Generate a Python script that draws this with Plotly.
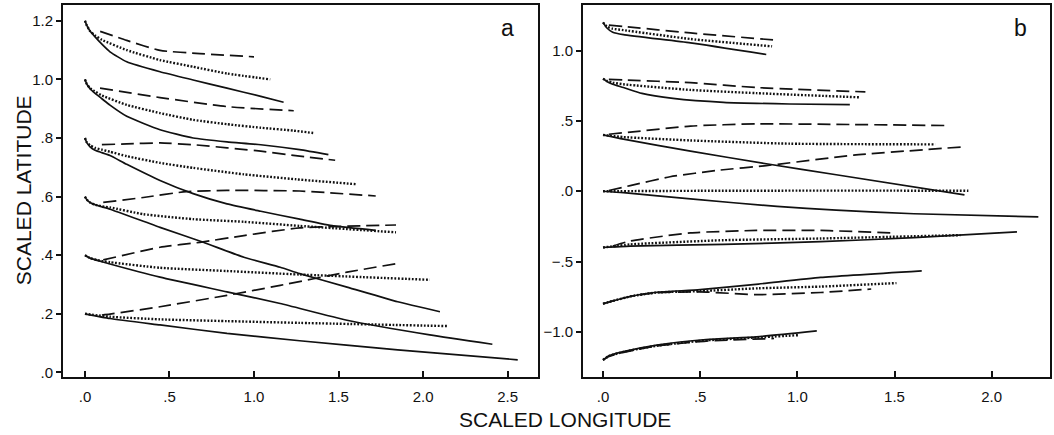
import plotly.graph_objects as go
from plotly.subplots import make_subplots

# ---- panel a (start latitudes 1.2 ... 0.2) ----
A12_SOLID_X = [0, 0.01, 0.03, 0.06, 0.10, 0.148, 0.247, 0.444, 0.64, 0.84, 1.04, 1.175]
A12_SOLID_Y = [1.20, 1.185, 1.165, 1.145, 1.12, 1.094, 1.06, 1.026, 0.998, 0.97, 0.942, 0.922]
A12_DOT_X = [0, 0.01, 0.03, 0.06, 0.10, 0.247, 0.444, 0.64, 0.84, 1.096]
A12_DOT_Y = [1.20, 1.185, 1.165, 1.15, 1.135, 1.10, 1.066, 1.043, 1.02, 1.0]
A12_DASH_X = [0.09, 0.247, 0.444, 0.68, 1.0]
A12_DASH_Y = [1.164, 1.133, 1.099, 1.088, 1.077]

A10_SOLID_X = [0, 0.01, 0.03, 0.06, 0.10, 0.148, 0.247, 0.444, 0.64, 0.84, 1.04, 1.27, 1.44]
A10_SOLID_Y = [1.0, 0.985, 0.968, 0.952, 0.934, 0.912, 0.874, 0.828, 0.80, 0.787, 0.777, 0.76, 0.743]
A10_DOT_X = [0, 0.01, 0.03, 0.05, 0.10, 0.247, 0.444, 0.64, 0.84, 1.04, 1.235, 1.35]
A10_DOT_Y = [1.0, 0.985, 0.97, 0.962, 0.945, 0.913, 0.885, 0.862, 0.847, 0.835, 0.825, 0.817]
A10_DASH_X = [0.089, 0.444, 0.84, 1.235]
A10_DASH_Y = [0.97, 0.938, 0.907, 0.893]

A08_SOLID_X = [0, 0.01, 0.03, 0.06, 0.10, 0.148, 0.247, 0.444, 0.64, 0.84, 1.04, 1.27, 1.47, 1.72]
A08_SOLID_Y = [0.8, 0.785, 0.77, 0.758, 0.75, 0.74, 0.71, 0.655, 0.61, 0.575, 0.55, 0.523, 0.50, 0.485]
A08_DOT_X = [0, 0.01, 0.03, 0.06, 0.10, 0.148, 0.247, 0.444, 0.64, 0.94, 1.25, 1.61]
A08_DOT_Y = [0.8, 0.786, 0.775, 0.766, 0.76, 0.753, 0.738, 0.715, 0.698, 0.676, 0.659, 0.642]
A08_DASH_X = [0.10, 0.247, 0.444, 0.64, 1.04, 1.27, 1.48]
A08_DASH_Y = [0.777, 0.78, 0.783, 0.777, 0.755, 0.738, 0.724]

A06_SOLID_X = [0, 0.01, 0.03, 0.06, 0.10, 0.148, 0.444, 0.70, 0.94, 1.155, 1.27, 1.55, 1.85, 2.10]
A06_SOLID_Y = [0.6, 0.59, 0.58, 0.572, 0.565, 0.557, 0.495, 0.444, 0.393, 0.359, 0.337, 0.291, 0.241, 0.207]
A06_DOT_X = [0, 0.01, 0.03, 0.06, 0.10, 0.148, 0.345, 0.64, 0.94, 1.27, 1.84]
A06_DOT_Y = [0.6, 0.59, 0.58, 0.572, 0.567, 0.563, 0.54, 0.523, 0.514, 0.50, 0.478]
A06_DASH_X = [0.108, 0.345, 0.60, 0.84, 1.27, 1.72]
A06_DASH_Y = [0.58, 0.597, 0.617, 0.621, 0.619, 0.602]

A04_SOLID_X = [0, 0.03, 0.10, 0.148, 0.444, 0.84, 1.155, 1.55, 2.04, 2.41]
A04_SOLID_Y = [0.4, 0.39, 0.378, 0.37, 0.325, 0.275, 0.235, 0.178, 0.128, 0.096]
A04_DOT_X = [0, 0.03, 0.10, 0.148, 0.444, 0.84, 1.27, 2.04]
A04_DOT_Y = [0.4, 0.39, 0.38, 0.376, 0.357, 0.346, 0.334, 0.316]
A04_DASH_X = [0.108, 0.444, 0.68, 0.94, 1.27, 1.84]
A04_DASH_Y = [0.384, 0.427, 0.444, 0.467, 0.493, 0.503]

A02_SOLID_X = [0, 0.148, 0.444, 0.84, 1.27, 1.85, 2.56]
A02_SOLID_Y = [0.2, 0.184, 0.162, 0.133, 0.108, 0.077, 0.043]
A02_DOT_X = [0, 0.148, 0.444, 0.84, 1.27, 2.15]
A02_DOT_Y = [0.2, 0.19, 0.181, 0.175, 0.169, 0.158]
A02_DASH_X = [0.10, 0.148, 0.444, 0.84, 1.155, 1.55, 1.87]
A02_DASH_Y = [0.196, 0.199, 0.224, 0.263, 0.297, 0.342, 0.374]

# ---- panel b (start latitudes 1.2 ... -1.2) ----
B12_SOLID_X = [0, 0.02, 0.05, 0.105, 0.45, 0.84]
B12_SOLID_Y = [1.2, 1.16, 1.13, 1.113, 1.054, 0.972]
B12_DOT_X = [0, 0.02, 0.05, 0.105, 0.45, 0.87]
B12_DOT_Y = [1.2, 1.17, 1.155, 1.145, 1.082, 1.03]
B12_DASH_X = [0.03, 0.105, 0.45, 0.895]
B12_DASH_Y = [1.18, 1.171, 1.125, 1.073]

B08_SOLID_X = [0, 0.02, 0.05, 0.105, 0.2, 0.36, 0.62, 0.96, 1.27]
B08_SOLID_Y = [0.8, 0.78, 0.76, 0.737, 0.695, 0.66, 0.632, 0.62, 0.615]
B08_DOT_X = [0, 0.02, 0.05, 0.105, 0.45, 0.79, 1.325]
B08_DOT_Y = [0.8, 0.785, 0.772, 0.76, 0.72, 0.697, 0.667]
B08_DASH_X = [0.03, 0.105, 0.45, 0.79, 1.35]
B08_DASH_Y = [0.795, 0.791, 0.772, 0.737, 0.706]

B04_SOLID_X = [0, 0.105, 0.45, 0.84, 1.2, 1.86]
B04_SOLID_Y = [0.4, 0.37, 0.285, 0.195, 0.117, -0.026]
B04_DOT_X = [0, 0.105, 0.45, 0.96, 1.71]
B04_DOT_Y = [0.4, 0.385, 0.361, 0.338, 0.333]
B04_DASH_X = [0.03, 0.14, 0.45, 0.79, 1.2, 1.77]
B04_DASH_Y = [0.405, 0.42, 0.463, 0.479, 0.475, 0.467]

B00_SOLID_X = [0, 0.105, 0.45, 0.895, 1.2, 1.6, 2.24]
B00_SOLID_Y = [0, -0.01, -0.055, -0.108, -0.135, -0.16, -0.183]
B00_DOT_X = [0, 0.5, 1.0, 1.5, 1.88]
B00_DOT_Y = [0, 0.003, 0.004, 0.004, 0.003]
B00_DASH_X = [0.03, 0.14, 0.345, 0.6, 0.84, 1.29, 1.85]
B00_DASH_Y = [0.005, 0.04, 0.103, 0.15, 0.182, 0.256, 0.315]

BM04_SOLID_X = [0, 0.14, 0.62, 1.12, 1.6, 2.13]
BM04_SOLID_Y = [-0.4, -0.39, -0.378, -0.359, -0.33, -0.289]
BM04_DOT_X = [0, 0.14, 0.62, 1.12, 1.84]
BM04_DOT_Y = [-0.4, -0.378, -0.348, -0.336, -0.312]
BM04_DASH_X = [0.05, 0.14, 0.45, 0.79, 1.12, 1.49]
BM04_DASH_Y = [-0.39, -0.354, -0.296, -0.279, -0.279, -0.296]

BM08_SOLID_X = [0, 0.05, 0.15, 0.277, 0.5, 0.8, 1.12, 1.64]
BM08_SOLID_Y = [-0.8, -0.78, -0.745, -0.718, -0.7, -0.66, -0.613, -0.566]
BM08_DOT_X = [0, 0.05, 0.15, 0.277, 0.5, 0.8, 1.12, 1.51]
BM08_DOT_Y = [-0.8, -0.78, -0.745, -0.72, -0.71, -0.69, -0.678, -0.653]
BM08_DASH_X = [0, 0.05, 0.15, 0.277, 0.5, 0.79, 1.12, 1.38]
BM08_DASH_Y = [-0.8, -0.78, -0.745, -0.722, -0.715, -0.735, -0.72, -0.695]

BM12_SOLID_X = [0, 0.03, 0.105, 0.277, 0.53, 0.79, 1.10]
BM12_SOLID_Y = [-1.2, -1.17, -1.14, -1.094, -1.054, -1.035, -0.993]
BM12_DOT_X = [0, 0.03, 0.105, 0.277, 0.53, 0.79, 1.007]
BM12_DOT_Y = [-1.2, -1.172, -1.142, -1.098, -1.06, -1.04, -1.023]
BM12_DASH_X = [0, 0.03, 0.105, 0.277, 0.53, 0.88]
BM12_DASH_Y = [-1.2, -1.175, -1.145, -1.10, -1.065, -1.047]

A_XTICKS = [0, 0.5, 1.0, 1.5, 2.0, 2.5]
A_XTEXT = [".0", ".5", "1.0", "1.5", "2.0", "2.5"]
A_YTICKS = [0, 0.2, 0.4, 0.6, 0.8, 1.0, 1.2]
A_YTEXT = [".0", ".2", ".4", ".6", ".8", "1.0", "1.2"]
B_XTICKS = [0, 0.5, 1.0, 1.5, 2.0]
B_XTEXT = [".0", ".5", "1.0", "1.5", "2.0"]
B_YTICKS = [-1.0, -0.5, 0, 0.5, 1.0]
B_YTEXT = ["\u22121.0", "\u2212.5", ".0", ".5", "1.0"]

INK = "#111111"
STYLES = {
    "solid": dict(color=INK, width=1.7, dash="solid"),
    "dot": dict(color=INK, width=2.4, dash="1.8px,1.7px"),
    "dash": dict(color=INK, width=1.7, dash="13px,6px"),
}

PANEL_A = [
    (A12_SOLID_X, A12_SOLID_Y, "solid"), (A12_DOT_X, A12_DOT_Y, "dot"), (A12_DASH_X, A12_DASH_Y, "dash"),
    (A10_SOLID_X, A10_SOLID_Y, "solid"), (A10_DOT_X, A10_DOT_Y, "dot"), (A10_DASH_X, A10_DASH_Y, "dash"),
    (A08_SOLID_X, A08_SOLID_Y, "solid"), (A08_DOT_X, A08_DOT_Y, "dot"), (A08_DASH_X, A08_DASH_Y, "dash"),
    (A06_SOLID_X, A06_SOLID_Y, "solid"), (A06_DOT_X, A06_DOT_Y, "dot"), (A06_DASH_X, A06_DASH_Y, "dash"),
    (A04_SOLID_X, A04_SOLID_Y, "solid"), (A04_DOT_X, A04_DOT_Y, "dot"), (A04_DASH_X, A04_DASH_Y, "dash"),
    (A02_SOLID_X, A02_SOLID_Y, "solid"), (A02_DOT_X, A02_DOT_Y, "dot"), (A02_DASH_X, A02_DASH_Y, "dash"),
]
PANEL_B = [
    (B12_SOLID_X, B12_SOLID_Y, "solid"), (B12_DOT_X, B12_DOT_Y, "dot"), (B12_DASH_X, B12_DASH_Y, "dash"),
    (B08_SOLID_X, B08_SOLID_Y, "solid"), (B08_DOT_X, B08_DOT_Y, "dot"), (B08_DASH_X, B08_DASH_Y, "dash"),
    (B04_SOLID_X, B04_SOLID_Y, "solid"), (B04_DOT_X, B04_DOT_Y, "dot"), (B04_DASH_X, B04_DASH_Y, "dash"),
    (B00_SOLID_X, B00_SOLID_Y, "solid"), (B00_DOT_X, B00_DOT_Y, "dot"), (B00_DASH_X, B00_DASH_Y, "dash"),
    (BM04_SOLID_X, BM04_SOLID_Y, "solid"), (BM04_DOT_X, BM04_DOT_Y, "dot"), (BM04_DASH_X, BM04_DASH_Y, "dash"),
    (BM08_SOLID_X, BM08_SOLID_Y, "solid"), (BM08_DOT_X, BM08_DOT_Y, "dot"), (BM08_DASH_X, BM08_DASH_Y, "dash"),
    (BM12_SOLID_X, BM12_SOLID_Y, "solid"), (BM12_DOT_X, BM12_DOT_Y, "dot"), (BM12_DASH_X, BM12_DASH_Y, "dash"),
]

FONT = "Liberation Sans, Arial, sans-serif"
W, H = 1054, 435

fig = make_subplots(rows=1, cols=2)

for col, curves in ((1, PANEL_A), (2, PANEL_B)):
    for xs, ys, style in curves:
        fig.add_trace(
            go.Scatter(x=xs, y=ys, mode="lines", line=dict(shape="spline", smoothing=0.5, **STYLES[style]),
                       showlegend=False, hoverinfo="skip"),
            row=1, col=col,
        )

axis_common = dict(
    showline=True, linecolor=INK, linewidth=2, mirror=True, showgrid=False, zeroline=False,
    tickcolor=INK, tickwidth=1.5, tickfont=dict(family=FONT, size=15, color=INK),
)

fig.update_xaxes(axis_common)
fig.update_yaxes(axis_common)

fig.update_xaxes(domain=[63 / W, 538 / W], range=[-0.13, 2.68], tickvals=A_XTICKS, ticktext=A_XTEXT,
                 ticks="inside", ticklen=6, ticklabelstandoff=5, row=1, col=1)
fig.update_xaxes(domain=[583 / W, 1050 / W], range=[-0.103, 2.30], tickvals=B_XTICKS, ticktext=B_XTEXT,
                 ticks="inside", ticklen=6, ticklabelstandoff=5, row=1, col=2)
fig.update_yaxes(domain=[1 - 380 / H, 1 - 5 / H], range=[-0.014, 1.254], tickvals=A_YTICKS, ticktext=A_YTEXT,
                 ticks="outside", ticklen=5, row=1, col=1)
fig.update_yaxes(domain=[1 - 380 / H, 1 - 5 / H], range=[-1.317, 1.324], tickvals=B_YTICKS, ticktext=B_YTEXT,
                 ticks="outside", ticklen=5, row=1, col=2)

label_common = dict(xref="paper", yref="paper", showarrow=False, xanchor="center", yanchor="middle")
fig.add_annotation(text="a", x=507 / W, y=1 - 28 / H, font=dict(family=FONT, size=23, color=INK), **label_common)
fig.add_annotation(text="b", x=1020 / W, y=1 - 28 / H, font=dict(family=FONT, size=23, color=INK), **label_common)
fig.add_annotation(text="SCALED LATITUDE", x=23 / W, y=1 - 192 / H, textangle=-90,
                   font=dict(family=FONT, size=21, color=INK), **label_common)
fig.add_annotation(text="SCALED LONGITUDE", x=565 / W, y=1 - 423 / H,
                   font=dict(family=FONT, size=21, color=INK), **label_common)

fig.update_layout(
    width=W, height=H, margin=dict(l=0, r=0, t=0, b=0),
    paper_bgcolor="white", plot_bgcolor="white",
)

# the page body keeps its default 8px margin otherwise
fig.write_html(
    "out.html",
    config={"displayModeBar": False},
    post_script="document.body.style.margin='0';document.body.style.overflow='hidden';",
)
